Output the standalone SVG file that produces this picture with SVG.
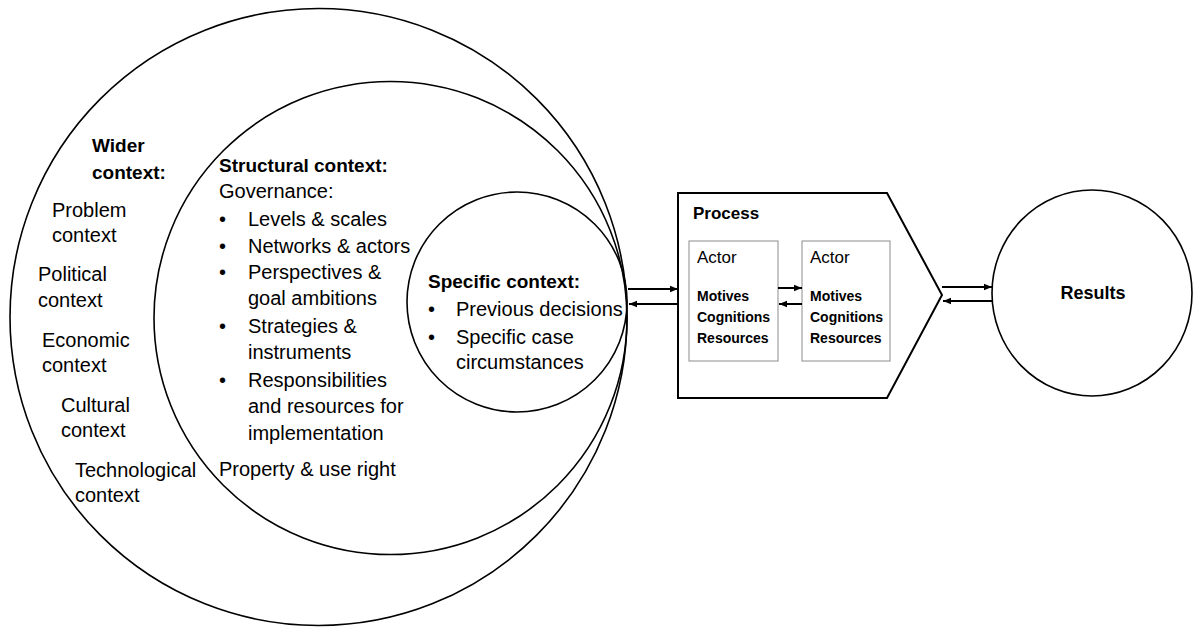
<svg xmlns="http://www.w3.org/2000/svg" width="1193" height="628" viewBox="0 0 1193 628">
<defs>
<marker id="ah" viewBox="0 0 10 10" refX="10" refY="5" markerWidth="4" markerHeight="4" orient="auto-start-reverse" markerUnits="strokeWidth">
<path d="M0,1 L10,5 L0,9 Z" fill="#000"/>
</marker>
<style>
text{font-family:"Liberation Sans",Arial,sans-serif;fill:#000}
.r{font-size:20px}
.b{font-size:19px;font-weight:bold}
.ring{fill:none;stroke:#000;stroke-width:1.6}
.conn{stroke:#000;stroke-width:2;fill:none}
.actor{fill:#fff;stroke:#8c8c8c;stroke-width:1}
.at{font-size:17px}
.as{font-size:14px;font-weight:bold}
</style>
</defs>
<rect width="1193" height="628" fill="#fff"/>
<g id="wider">
<circle class="ring" cx="318.5" cy="317" r="308.5"/>
<text class="b" x="92" y="152">Wider</text>
<text class="b" x="92" y="179">context:</text>
<text class="r" x="52" y="217">Problem</text>
<text class="r" x="52" y="242">context</text>
<text class="r" x="38" y="281">Political</text>
<text class="r" x="38" y="307">context</text>
<text class="r" x="42" y="347">Economic</text>
<text class="r" x="42" y="372">context</text>
<text class="r" x="61" y="412">Cultural</text>
<text class="r" x="61" y="437">context</text>
<text class="r" x="75" y="477">Technological</text>
<text class="r" x="75" y="502">context</text>
</g>
<g id="structural">
<circle class="ring" cx="390.5" cy="318" r="236.5"/>
<text class="b" x="219" y="172">Structural context:</text>
<text class="r" x="219" y="198">Governance:</text>
<text class="r" x="219" y="226">•</text><text class="r" x="248" y="226">Levels &amp; scales</text>
<text class="r" x="219" y="253">•</text><text class="r" x="248" y="253">Networks &amp; actors</text>
<text class="r" x="219" y="279">•</text><text class="r" x="248" y="279">Perspectives &amp;</text>
<text class="r" x="248" y="305">goal ambitions</text>
<text class="r" x="219" y="333">•</text><text class="r" x="248" y="333">Strategies &amp;</text>
<text class="r" x="248" y="359">instruments</text>
<text class="r" x="219" y="387">•</text><text class="r" x="248" y="387">Responsibilities</text>
<text class="r" x="248" y="413">and resources for</text>
<text class="r" x="248" y="440">implementation</text>
<text class="r" x="219" y="476">Property &amp; use right</text>
</g>
<g id="specific">
<circle class="ring" cx="517" cy="302" r="110" fill="#fff"/>
<text class="b" x="428" y="288">Specific context:</text>
<text class="r" x="428" y="316">•</text><text class="r" x="456" y="316">Previous decisions</text>
<text class="r" x="428" y="344">•</text><text class="r" x="456" y="344">Specific case</text>
<text class="r" x="456" y="369">circumstances</text>
</g>
<g id="process">
<path d="M678,193 L887,193 L942,295 L887,398 L678,398 Z" fill="#fff" stroke="#000" stroke-width="2"/>
<text x="693" y="219" font-size="17" font-weight="bold">Process</text>
</g>
<g id="actor1">
<rect class="actor" x="689" y="241" width="89" height="120"/>
<text class="at" x="697" y="263">Actor</text>
<text class="as" x="697" y="301">Motives</text>
<text class="as" x="697" y="322">Cognitions</text>
<text class="as" x="697" y="343">Resources</text>
</g>
<g id="actor2">
<rect class="actor" x="802" y="241" width="88" height="120"/>
<text class="at" x="810" y="263">Actor</text>
<text class="as" x="810" y="301">Motives</text>
<text class="as" x="810" y="322">Cognitions</text>
<text class="as" x="810" y="343">Resources</text>
</g>
<g id="results">
<ellipse class="ring" cx="1092" cy="293" rx="100" ry="103" stroke-width="2"/>
<text x="1093" y="299" font-size="18" font-weight="bold" text-anchor="middle">Results</text>
</g>
<g id="connectors">
<line class="conn" x1="628" y1="289" x2="678" y2="289" marker-end="url(#ah)"/>
<line class="conn" x1="678" y1="304" x2="629" y2="304" marker-end="url(#ah)"/>
<line class="conn" x1="778" y1="288" x2="802" y2="288" marker-end="url(#ah)"/>
<line class="conn" x1="802" y1="304" x2="779" y2="304" marker-end="url(#ah)"/>
<line class="conn" x1="942" y1="287" x2="992" y2="287" marker-end="url(#ah)"/>
<line class="conn" x1="992" y1="301" x2="943" y2="301" marker-end="url(#ah)"/>
</g>
</svg>
